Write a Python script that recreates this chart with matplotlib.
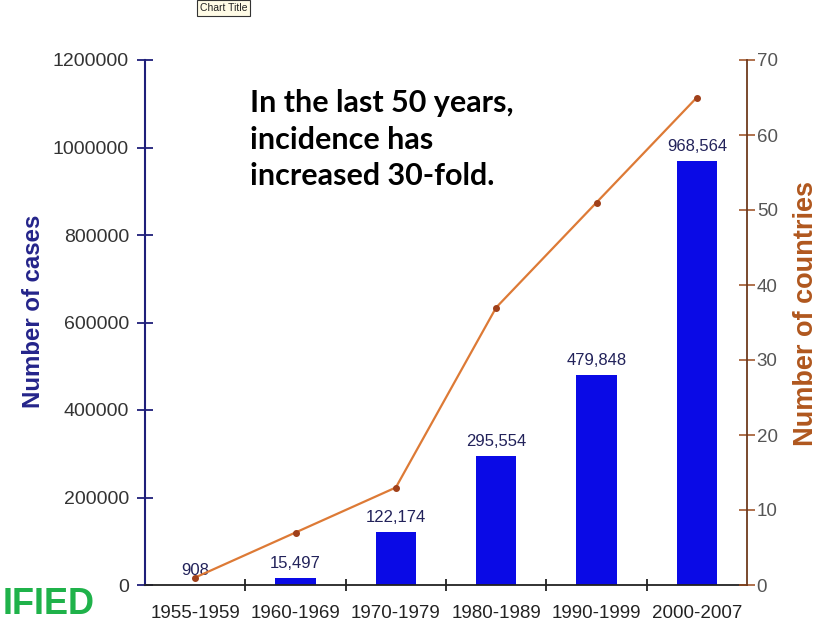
import matplotlib

matplotlib.use("Agg")
import matplotlib.pyplot as plt
import numpy as np

periods = ["1955-1959", "1960-1969", "1970-1979", "1980-1989", "1990-1999", "2000-2007"]
cases = [908, 15497, 122174, 295554, 479848, 968564]
countries = [1, 7, 13, 37, 51, 65]
case_ticks = [0, 200000, 400000, 600000, 800000, 1000000, 1200000]
country_ticks = [0, 10, 20, 30, 40, 50, 60, 70]

NAVY = "#1f1f7a"
BAR = "#0a0ae6"
BROWN = "#9a4a1c"
LINE = "#dd7a36"

plt.rcParams["font.family"] = ["Liberation Sans", "DejaVu Sans"]

fig = plt.figure(figsize=(8.21, 6.23), dpi=100)
fig.patch.set_facecolor("white")
ax = fig.add_axes([145 / 821, 38 / 623, 602 / 821, 525 / 623])

x = np.arange(len(periods))
ax.bar(x, cases, width=0.4, color=BAR, zorder=2)
for xi, v in zip(x, cases):
    ax.annotate(f"{v:,}", (xi, v), xytext=(0, 5), textcoords="offset points",
                ha="center", va="bottom", fontsize=12, color="#22225a")

ax.set_xlim(-0.5, len(periods) - 0.5)
ax.set_ylim(0, 1200000)
ax.set_yticks(case_ticks)
ax.set_yticklabels([str(t) for t in case_ticks])
ax.set_xticks(x)
ax.set_xticklabels(periods)
ax.set_xticks(x[:-1] + 0.5, minor=True)
ax.tick_params(axis="x", which="major", length=0, labelsize=13.5, colors="#222222", pad=14.5)
ax.tick_params(axis="x", which="minor", direction="inout", length=9, width=1.3, color="#222222")
ax.tick_params(axis="y", direction="inout", length=11, width=1.3, color=NAVY,
               labelsize=14, labelcolor="#333333", pad=6)

ax.spines["top"].set_visible(False)
ax.spines["right"].set_visible(False)
ax.spines["left"].set_color(NAVY)
ax.spines["left"].set_linewidth(1.5)
ax.spines["bottom"].set_color("#222222")
ax.spines["bottom"].set_linewidth(1.3)
ax.set_ylabel("Number of cases", fontsize=17.3, fontweight="bold", color="#24248a", labelpad=6)
ax.yaxis.label.set_y(0.522)

ax2 = ax.twinx()
ax2.plot(x, countries, color=LINE, lw=1.6, marker="o", markersize=4,
         markerfacecolor="#a0401a", markeredgecolor="#a0401a", zorder=3)
ax2.set_ylim(0, 70)
ax2.set_yticks(country_ticks)
ax2.tick_params(axis="y", direction="inout", length=11, width=1.1, color=BROWN,
                labelsize=13.5, labelcolor="#555555", pad=1.5)
for side in ["top", "left", "bottom"]:
    ax2.spines[side].set_visible(False)
ax2.spines["right"].set_color("#6e3a1e")
ax2.spines["right"].set_linewidth(1.3)
ax2.set_ylabel("Number of countries", fontsize=19.5, fontweight="bold", color="#b0571e", labelpad=11)
ax2.yaxis.label.set_y(0.518)

fig.text(250 / 821, 1 - 89 / 623,
         "In the last 50 years,\nincidence has\nincreased 30-fold.",
         family=["Lato", "DejaVu Sans"], fontsize=22, fontweight="bold",
         color="black", ha="left", va="top", linespacing=1.38)

fig.text(3 / 821, 1 - 604 / 623, "IFIED", fontsize=26, fontweight="bold",
         color="#1fb24a", ha="left", va="center")

fig.text(200 / 821, 1 - 8 / 623, "Chart Title", fontsize=7.5, color="#222222",
         ha="left", va="center",
         bbox=dict(boxstyle="square,pad=0.25", facecolor="#fffbe6", edgecolor="#333333", lw=0.8))

fig.savefig("out.png", dpi=100)
